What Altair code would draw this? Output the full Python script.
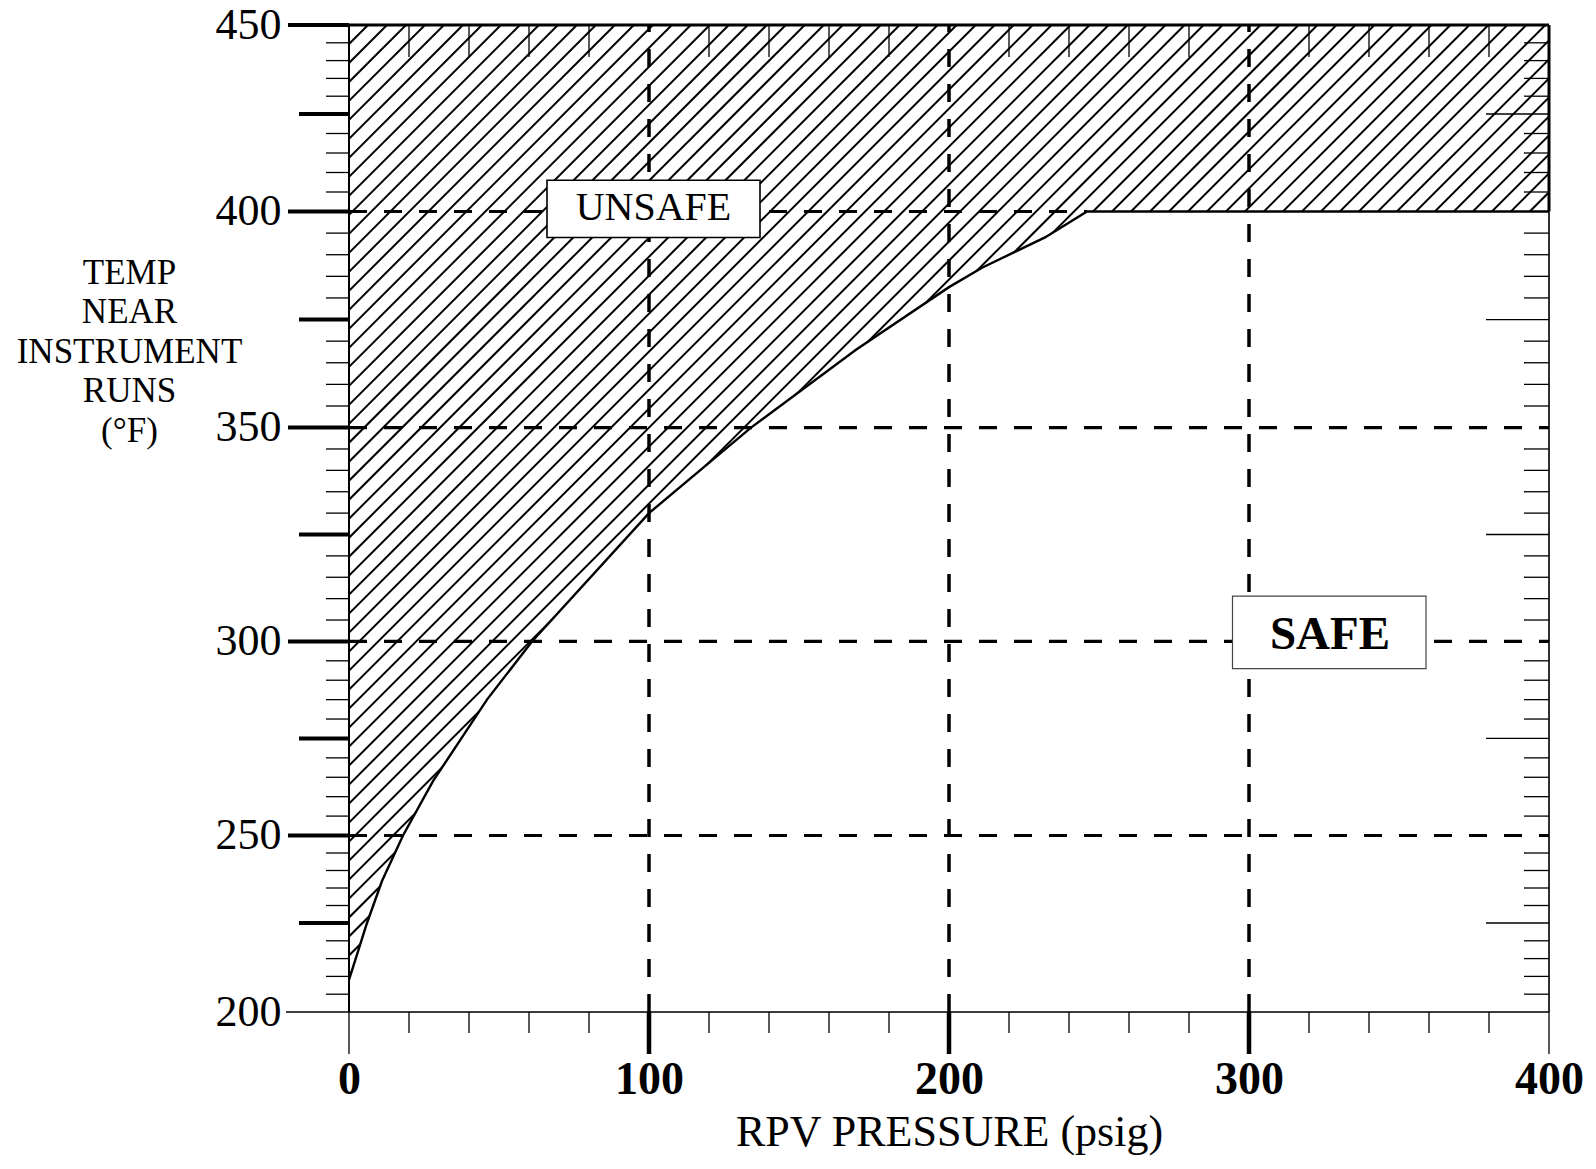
import altair as alt
import numpy as np
import pandas as pd

FONT = "Liberation Serif"

# ---- data ----
pressure = [0, 6, 11, 18, 28, 46, 61, 100, 134, 169, 200, 211, 232, 246, 400]
temp_limit = [209, 225, 237, 250, 264, 285, 300, 330, 350, 368, 382.5, 387, 394, 400, 400]

x_domain = [0, 400]
y_domain = [200, 450]
# the scanned figure is slightly stretched vertically: piecewise y scale
y_stops = [200, 225, 250, 300, 350, 400, 425, 450]
y_stop_px = [987, 898, 810.5, 616.4, 402.6, 186.5, 89, 0]

x_tick_labels = [0, 100, 200, 300, 400]
y_tick_labels = [200, 250, 300, 350, 400, 450]
x_grid = [100, 200, 300]
y_grid = [250, 300, 350, 400]

ann_text = ["UNSAFE", "SAFE"]
ann_x = [101.5, 327]
ann_y = [401, 301.5]
box_x1 = [66, 294.5]
box_x2 = [137, 359]
box_y1 = [394, 293]
box_y2 = [408, 310.6]

W, H = 1200, 987

# ---- scales / axes ----
xs = alt.Scale(domain=x_domain, nice=False, zero=False)
ys = alt.Scale(domain=y_stops, range=y_stop_px, nice=False, zero=False)

xaxis = alt.Axis(values=x_tick_labels, ticks=False, domain=False, grid=False,
                 labelFlush=False, labelOverlap=False,
                 labelFont=FONT, labelFontSize=46, labelFontWeight="bold",
                 labelPadding=45, labelColor="black",
                 title="RPV PRESSURE (psig)", titleFont=FONT, titleFontSize=44,
                 titleFontWeight="normal", titlePadding=8, titleColor="black")
yaxis = alt.Axis(values=y_tick_labels, ticks=False, domain=False, grid=False,
                 labelFlush=False, labelOverlap=False,
                 labelFont=FONT, labelFontSize=44, labelPadding=68, labelColor="black",
                 title=["TEMP", "NEAR", "INSTRUMENT", "RUNS", "(°F)"],
                 titleFont=FONT, titleFontSize=35, titleFontWeight="normal",
                 titleAngle=0, titleAlign="center", titleBaseline="top",
                 titleX=-220, titleY=230, titleLineHeight=39.5, titleColor="black")


def X(f):
    return alt.X(f, type="quantitative", scale=xs, axis=xaxis)


def Y(f):
    return alt.Y(f, type="quantitative", scale=ys, axis=yaxis)


# ---- hatch (45 degree lines, clipped to plot) ----
dx = (H / (W / (x_domain[1] - x_domain[0])))
x0 = np.arange(x_domain[0] - dx, x_domain[1] + 1, 6.33)
hatch_df = pd.DataFrame({"hx": x0, "hx2": x0 + dx, "hy": y_domain[0], "hy2": y_domain[1]})
hatch = alt.Chart(hatch_df).mark_rule(clip=True, strokeWidth=2, color="black").encode(
    x=X("hx"), x2="hx2", y=Y("hy"), y2="hy2")

curve_df = pd.DataFrame({"p": pressure, "t": temp_limit, "base": y_domain[0]})
white = alt.Chart(curve_df).mark_area(color="white", opacity=1).encode(
    x=X("p"), y=Y("t"), y2="base")

# ---- dashed grid ----
flat_start = next(p for p, t in zip(pressure, temp_limit) if t >= y_grid[-1])
hg = pd.DataFrame({"gy": y_grid, "gx": x_domain[0],
                   "gx2": [x_domain[1] if v < y_grid[-1] else flat_start for v in y_grid]})
vg = pd.DataFrame({"gx": x_grid, "gy": y_domain[0], "gy2": y_domain[1]})
hgrid = alt.Chart(hg).mark_rule(strokeDash=[18, 17], strokeWidth=3.2, color="black").encode(
    x=X("gx"), x2="gx2", y=Y("gy"))
vgrid = alt.Chart(vg).mark_rule(strokeDash=[18, 17], strokeWidth=3.5, color="black").encode(
    x=X("gx"), y=Y("gy"), y2="gy2")

curve = alt.Chart(curve_df).mark_line(color="black", strokeWidth=2.4).encode(x=X("p"), y=Y("t"))

# ---- frame ----
frame_df = pd.DataFrame({
    "fx": [x_domain[0], x_domain[0], x_domain[0], x_domain[1], x_domain[1]],
    "fx2": [x_domain[1], x_domain[1], x_domain[0], x_domain[1], x_domain[1]],
    "fy": [y_domain[0], y_domain[1], y_domain[0], y_domain[0], y_grid[-1]],
    "fy2": [y_domain[0], y_domain[1], y_domain[1], y_grid[-1], y_domain[1]],
    "w": [1.6, 3, 2, 1.6, 3],
})
frame = alt.Chart(frame_df).mark_rule(color="black").encode(
    x=X("fx"), x2="fx2", y=Y("fy"), y2="fy2",
    strokeWidth=alt.StrokeWidth("w:Q", scale=None))


def ticks(xv, yv, orient, size, thick, xoff=0, yoff=0):
    df = pd.DataFrame({"tx": xv, "ty": yv})
    return alt.Chart(df).mark_tick(orient=orient, size=size, thickness=thick,
                                   xOffset=xoff, yOffset=yoff, opacity=1, color="black").encode(
        x=X("tx"), y=Y("ty"))


ymin, ymax = y_domain
xmin, xmax = x_domain
y_minor = [v for v in range(ymin + 5, ymax, 5) if v % 25 != 0]
y_25 = [v for v in range(ymin + 25, ymax, 50)]
y_50 = [v for v in range(ymin + 50, ymax + 1, 50)]
x_minor = [v for v in range(xmin + 20, xmax, 20) if v % 100 != 0]

layers = [
    hatch, white, hgrid, vgrid, curve, frame,
    ticks([xmin] * len(y_minor), y_minor, "horizontal", 23, 1.3, xoff=-11.5),
    ticks([xmin] * len(y_25), y_25, "horizontal", 50, 4, xoff=-25),
    ticks([xmin] * len(y_50), y_50, "horizontal", 61, 4, xoff=-30.5),
    ticks([xmin], [ymin], "horizontal", 63, 1.6, xoff=-31.5),
    ticks([xmax] * len(y_minor), y_minor, "horizontal", 25, 1.3, xoff=-12.5),
    ticks([xmax] * len(y_25), y_25, "horizontal", 63, 1.3, xoff=-31.5),
    ticks(x_minor, [ymin] * len(x_minor), "vertical", 21, 1.3, yoff=10.5),
    ticks([xmin, xmax], [ymin, ymin], "vertical", 42, 1.3, yoff=21),
    ticks(x_grid, [ymin] * len(x_grid), "vertical", 42, 4.5, yoff=21),
    ticks(x_minor, [ymax] * len(x_minor), "vertical", 32, 1.3, yoff=16),
]

# ---- label boxes ----
box0 = pd.DataFrame({"bx": [box_x1[0]], "bx2": [box_x2[0]], "by": [box_y1[0]], "by2": [box_y2[0]]})
box1 = pd.DataFrame({"bx": [box_x1[1]], "bx2": [box_x2[1]], "by": [box_y1[1]], "by2": [box_y2[1]]})
layers.append(alt.Chart(box0).mark_rect(fill="white", stroke="black", strokeWidth=1.6).encode(
    x=X("bx"), x2="bx2", y=Y("by"), y2="by2"))
layers.append(alt.Chart(box1).mark_rect(fill="white", stroke="#444444", strokeWidth=1.2).encode(
    x=X("bx"), x2="bx2", y=Y("by"), y2="by2"))
t0 = pd.DataFrame({"lx": [ann_x[0]], "ly": [ann_y[0]], "lab": [ann_text[0]]})
t1 = pd.DataFrame({"lx": [ann_x[1]], "ly": [ann_y[1]], "lab": [ann_text[1]]})
layers.append(alt.Chart(t0).mark_text(font=FONT, fontSize=40, align="center", baseline="middle",
                                      color="black").encode(x=X("lx"), y=Y("ly"), text="lab:N"))
layers.append(alt.Chart(t1).mark_text(font=FONT, fontSize=47, fontWeight="bold", align="center",
                                      baseline="middle", color="black").encode(
    x=X("lx"), y=Y("ly"), text="lab:N"))

chart = alt.layer(*layers).properties(
    width=W, height=H,
    autosize=alt.AutoSizeParams(type="none"),
    padding={"left": 341, "top": 17, "right": 38, "bottom": 150},
).configure_view(stroke=None).configure(background="white")

chart.save("out.html", embed_options={"renderer": "svg", "actions": False})
